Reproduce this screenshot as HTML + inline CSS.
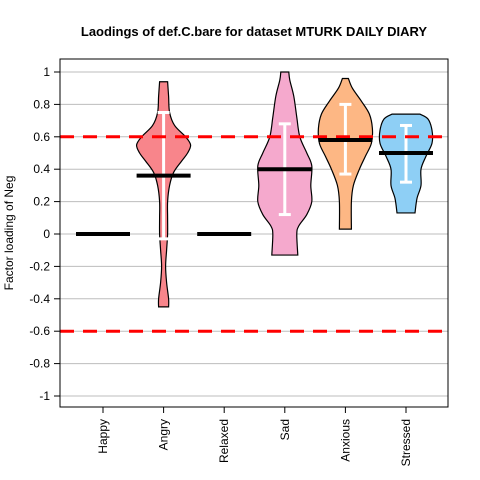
<!DOCTYPE html>
<html><head><meta charset="utf-8"><style>body{margin:0;background:#fff}svg{display:block;font-family:"Liberation Sans",sans-serif}</style></head>
<body>
<svg id="c" width="480" height="480"></svg>
<script>
const categories=["Happy","Angry","Relaxed","Sad","Anxious","Stressed"];
const medians=[0,0.36,0,0.4,0.58,0.5];
const upperBar=[null,0.75,null,0.68,0.8,0.67];
const lowerBar=[null,-0.03,null,0.12,0.37,0.32];
const colors=[null,"#f8858b",null,"#f5a9cd","#fdb784","#8ecff5"];
const violinAngry=[[0.94,4],[0.85,5],[0.75,6],[0.67,11],[0.6,22],[0.55,27],[0.5,24],[0.45,18],[0.38,10],[0.3,6],[0.2,4],[0.1,4],[0,4],[-0.1,3],[-0.2,2],[-0.3,3],[-0.4,5],[-0.45,5]];
const violinSad=[[1.0,4],[0.95,5],[0.85,9],[0.72,12],[0.6,15],[0.5,22],[0.42,27],[0.3,26],[0.2,27],[0.12,22],[0.05,14],[0,12],[-0.13,13]];
const violinAnxious=[[0.96,3],[0.9,7],[0.82,16],[0.74,24],[0.65,27],[0.56,26],[0.48,20],[0.4,14],[0.3,8],[0.2,6],[0.03,6]];
const violinStressed=[[0.74,14],[0.71,22],[0.64,26],[0.56,26],[0.48,20],[0.4,15],[0.3,15],[0.22,11],[0.13,9]];
const violins=[null,violinAngry,null,violinSad,violinAnxious,violinStressed];
const yTicks=[1,0.8,0.6,0.4,0.2,0,-0.2,-0.4,-0.6,-0.8,-1];
const refLines=[0.6,-0.6];

const svg=document.getElementById('c');const NS="http://www.w3.org/2000/svg";
function mk(t,a,p){const e=document.createElementNS(NS,t);for(const k in a)e.setAttribute(k,a[k]);(p||svg).appendChild(e);return e;}
const L=60,R=448,T=59,B=407;
const y=v=>234-162*v;
const x=i=>103+i*60.6;
function smooth(pts){let d="M"+pts[0][0]+","+pts[0][1];
 for(let i=0;i<pts.length-1;i++){const p0=pts[Math.max(0,i-1)],p1=pts[i],p2=pts[i+1],p3=pts[Math.min(pts.length-1,i+2)];
  d+=`C${p1[0]+(p2[0]-p0[0])/6},${p1[1]+(p2[1]-p0[1])/6} ${p2[0]-(p3[0]-p1[0])/6},${p2[1]-(p3[1]-p1[1])/6} ${p2[0]},${p2[1]}`;}
 return d;}
const g=mk('g',{});
yTicks.forEach(v=>mk('line',{x1:L,x2:R,y1:y(v),y2:y(v),stroke:'#bdbdbd','stroke-width':1},g));
categories.forEach((c,i)=>{
 const vs=violins[i];
 if(vs){
  const right=vs.map(p=>[x(i)+p[1],y(p[0])]);
  const left=vs.slice().reverse().map(p=>[x(i)-p[1],y(p[0])]);
  const d=smooth(right)+"L"+smooth(left).slice(1)+"Z";
  const p=mk('path',{d:d,fill:colors[i],stroke:'#000','stroke-width':1.2});
  
  const e=mk('g',{stroke:'#fff','stroke-width':3});
  
  mk('line',{x1:x(i),x2:x(i),y1:y(upperBar[i]),y2:y(lowerBar[i])},e);
  mk('line',{x1:x(i)-6,x2:x(i)+6,y1:y(upperBar[i]),y2:y(upperBar[i])},e);
  mk('line',{x1:x(i)-6,x2:x(i)+6,y1:y(lowerBar[i]),y2:y(lowerBar[i])},e);
 }
});
refLines.forEach(v=>{const l=mk('line',{x1:L,x2:R,y1:y(v),y2:y(v),stroke:'#f00','stroke-width':3,'stroke-dasharray':'14,9'});
 });
categories.forEach((c,i)=>{
 const m=mk('line',{x1:x(i)-27,x2:x(i)+27,y1:y(medians[i]),y2:y(medians[i]),stroke:'#000','stroke-width':4});
 
 mk('line',{x1:x(i),x2:x(i),y1:B,y2:B+6,stroke:'#000'});
 const t=mk('text',{x:0,y:0,'font-size':12,'text-anchor':'end',transform:`translate(${x(i)+4},${B+12}) rotate(-90)`});
 t.textContent=c;
});
yTicks.forEach(v=>{mk('line',{x1:L-6,x2:L,y1:y(v),y2:y(v),stroke:'#000'});
 const t=mk('text',{x:L-10,y:y(v)+4,'font-size':12,'text-anchor':'end'});t.textContent=String(v);
 });
const fr=mk('rect',{x:L,y:T,width:R-L,height:B-T,fill:'none',stroke:'#000','stroke-width':1});

const ti=mk('text',{x:254,y:36,'font-size':13,'font-weight':'bold','text-anchor':'middle'});
ti.textContent="Laodings of def.C.bare for dataset MTURK DAILY DIARY";
const yt=mk('text',{x:0,y:0,'font-size':12,'text-anchor':'middle',transform:'translate(13,233) rotate(-90)'});
yt.textContent="Factor loading of Neg";
</script>
</body></html>
